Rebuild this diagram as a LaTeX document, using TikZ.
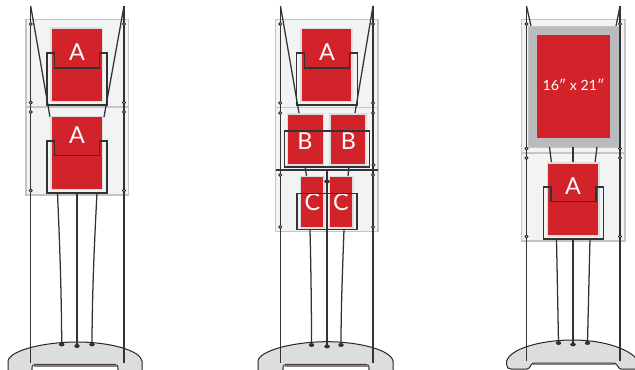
\documentclass[tikz,border=0pt]{standalone}
\usepackage{fontspec}
\usetikzlibrary{shapes.geometric}
\setmainfont{Lato}
\definecolor{panelfill}{HTML}{F2F4F3}
\definecolor{paneledge}{HTML}{C4C6C6}
\definecolor{cardred}{HTML}{D2232A}
\definecolor{cardedge}{HTML}{DCDDDF}
\definecolor{wire}{HTML}{333335}
\definecolor{basefill}{HTML}{DCDDDE}
\definecolor{slot}{HTML}{8A7F7A}
\definecolor{framegray}{HTML}{B9BBBF}
\tikzset{
  panel/.style={draw=paneledge,fill=panelfill,line width=0.9pt},
  card/.style={draw=cardedge,fill=cardred,line width=0.8pt},
  wireline/.style={draw=wire,line width=0.95pt},
  holder/.style={draw=wire,line width=1.15pt},
  pole/.style={draw=black!80,line width=0.95pt},
  ring/.style={circle,draw=black!85,fill=panelfill,line width=0.7pt,inner sep=0pt,minimum size=2.2pt},
  peg/.style={ellipse,draw=black!85,fill=wire,line width=0.4pt,inner sep=0pt,minimum width=3.6pt,minimum height=2.4pt},
  lab/.style={text=white,inner sep=0pt,font=\fontsize{17.5}{20}\selectfont},
  baseshape/.style={draw=black!85,fill=basefill,line width=0.75pt},
  slotbox/.style={draw=black!75,fill=white,line width=0.8pt},
  slotband/.style={draw=slot,line width=1.1pt}
}
\newcommand{\rectA}[4]{(#1,#2) rectangle (#3,#4)}
\begin{document}
\begin{tikzpicture}[x=0.75pt,y=-0.75pt]
\useasboundingbox (0,0) rectangle (635,370);
\fill[white] (0,0) rectangle (635,370);

% ===== stand 1 =====
\path[panel] \rectA{26}{19.5}{128.5}{107};
\path[panel] \rectA{26}{107}{128.5}{195};
\path[wireline] (30.7,6) -- (50,117);
\path[wireline] (124,6) -- (104,117);
\path[card] \rectA{51}{28}{102.5}{101.5};
\path[card] \rectA{51}{116.5}{102.5}{189.5};
\node[lab] (a1) at (77,52) {A};
\node[lab] (a2) at (77,135) {A};
\path[holder] (47,105) -- (47,53) -- (54.5,53) -- (54.5,68) -- (99.5,68) -- (99.5,53) -- (107,53) -- (107,105) -- cycle;
\path[holder] (47,193) -- (47,141) -- (54.5,141) -- (54.5,155.5) -- (99.5,155.5) -- (99.5,141) -- (107,141) -- (107,193) -- cycle;
\path[pole] (30.7,6) -- (30.7,364);
\path[pole] (124,6) -- (124,364);
\foreach \y in {24,102.5,112,190.5}{
  \node[ring] at (30.7,\y) {};
  \node[ring] at (124,\y) {};
}
\path[baseshape] (8,370) -- (8,361) .. controls (10,350) and (45,342) .. (77,342) .. controls (109,342) and (140,350) .. (142,361) -- (142,370);
\path[slotbox] (32,371) -- (32,367.5) .. controls (32,365.5) and (33,364.5) .. (35,364.5) -- (115,364.5) .. controls (117,364.5) and (118,365.5) .. (118,367.5) -- (118,371);
\path[slotband] (33.5,366.2) -- (116.5,366.2);
\path[pole] (30.7,345) -- (30.7,363);
\path[pole] (124,345) -- (124,363);
\path[wireline] (57.5,193) .. controls (59.5,240) and (61.5,290) .. (61.7,344);
\path[wireline] (77,193) -- (77,346);
\path[wireline] (97,193) .. controls (94.5,240) and (92.2,290) .. (92,344);
\node[peg] at (61.7,344.5) {};
\node[peg] at (77,346) {};
\node[peg] at (92,344.5) {};

% ===== stand 2 =====
\path[panel] \rectA{275.5}{19.5}{378}{107.5};
\path[panel] \rectA{275.5}{107.5}{378}{170};
\path[panel] \rectA{275.5}{170}{378}{231.5};
\path[wireline] (280.5,6) -- (299,113);
\path[wireline] (373,6) -- (355,113);
\path[card] \rectA{301}{28.5}{352}{101.5};
\path[card] \rectA{287.5}{114}{323.5}{165};
\path[card] \rectA{330}{114}{366}{165};
\path[wireline] (327,170) -- (327,346);
\path[wireline] (305,166) -- (306.5,176);
\path[wireline] (349,166) -- (348,176);
\path[card] \rectA{300.5}{176.5}{324}{228};
\path[card] \rectA{329.5}{176.5}{353}{228};
\node[lab] (a3) at (327,52) {A};
\node[lab] (b1) at (305,141.5) {B};
\node[lab] (b2) at (348.5,141.5) {B};
\node[lab] (c1) at (312.5,202.5) {C};
\node[lab] (c2) at (341,202.5) {C};
\path[holder] (296.7,105) -- (296.7,53) -- (304.5,53) -- (304.5,68) -- (349.5,68) -- (349.5,53) -- (357.3,53) -- (357.3,105) -- cycle;
\path[holder] \rectA{284.5}{131}{369.5}{167};
\path[holder] \rectA{297}{193.5}{357}{229.5};
\path[draw=wire,line width=1.2pt] (275.5,170) -- (378,170);
\path[pole] (280.3,6) -- (280.3,364);
\path[pole] (373,6) -- (373,364);
\foreach \y in {24,103,113,175,227}{
  \node[ring] at (280.3,\y) {};
  \node[ring] at (373,\y) {};
}
\node[ring] at (373.5,165) {};
\node[peg] at (327,181.5) {};
\path[baseshape] (258,370) -- (258,361) .. controls (260,350) and (295,341.7) .. (327,341.7) .. controls (359,341.7) and (391,350) .. (393,361) -- (393,370);
\path[slotbox] (283,371) -- (283,367.5) .. controls (283,365.5) and (284,364.5) .. (286,364.5) -- (366,364.5) .. controls (368,364.5) and (369,365.5) .. (369,367.5) -- (369,371);
\path[slotband] (284.5,366.2) -- (367.5,366.2);
\path[pole] (280.3,345) -- (280.3,363);
\path[pole] (373,345) -- (373,363);
\path[wireline] (310,229.5) .. controls (311,270) and (311.5,310) .. (311.5,344);
\path[wireline] (327,229.5) -- (327,346);
\path[wireline] (344,229.5) .. controls (342.5,270) and (341,310) .. (341,344);
\node[peg] at (311.5,345) {};
\node[peg] at (327,346.5) {};
\node[peg] at (341,345) {};

% ===== stand 3 =====
\path[panel] \rectA{521.5}{19.5}{625}{153};
\path[panel] \rectA{521.5}{153}{625}{241};
\path[wireline] (526.5,6) -- (531,26);
\path[wireline] (620,6) -- (616,26);
\path[fill=framegray,draw=paneledge,line width=0.5pt] \rectA{528}{26}{620}{147};
\path[fill=cardred] \rectA{537}{35}{610}{138};
\node[text=white,inner sep=0pt,font=\fontsize{10.6}{13}\selectfont] (d1) at (573.5,85) {16″ x 21″};
\path[wireline] (549.5,147) -- (551.5,163);
\path[wireline] (573,147) -- (573,163);
\path[wireline] (597,147) -- (595,163);
\path[card] \rectA{547.5}{163}{599}{236};
\node[lab] (a4) at (573,186) {A};
\path[holder] (543.5,239) -- (543.5,187) -- (551,187) -- (551,201.5) -- (596,201.5) -- (596,187) -- (603.5,187) -- (603.5,239) -- cycle;
\path[pole] (526.5,6) -- (526.5,361);
\path[pole] (620,6) -- (620,361);
\foreach \y in {24,148.5,158,236.5}{
  \node[ring] at (526.5,\y) {};
  \node[ring] at (620,\y) {};
}
\path[fill=white] (533,363) rectangle (615,371);
\path[baseshape] (636,369) -- (621,369) .. controls (619,369) and (618,367) .. (617,365) .. controls (616,363.5) and (615,363) .. (613,363) -- (535,363) .. controls (533,363) and (532,363.5) .. (531,365) .. controls (530,367) and (529,369) .. (527,369) -- (511,369) .. controls (508,369) and (506.7,367.5) .. (506.7,365) -- (506.7,361) .. controls (510,349) and (540,340) .. (573,340) .. controls (600,340) and (625,347) .. (636,358);
\path[slotband] (533,364.6) -- (615,364.6);
\path[pole] (526.5,345) -- (526.5,361);
\path[pole] (620,345) -- (620,361);
\path[wireline] (556.5,239) -- (558.5,342);
\path[wireline] (573,239) -- (573,344);
\path[wireline] (590,239) -- (587.5,342);
\node[peg] at (558.5,343) {};
\node[peg] at (573,344.5) {};
\node[peg] at (587.5,343) {};
\end{tikzpicture}
\end{document}
